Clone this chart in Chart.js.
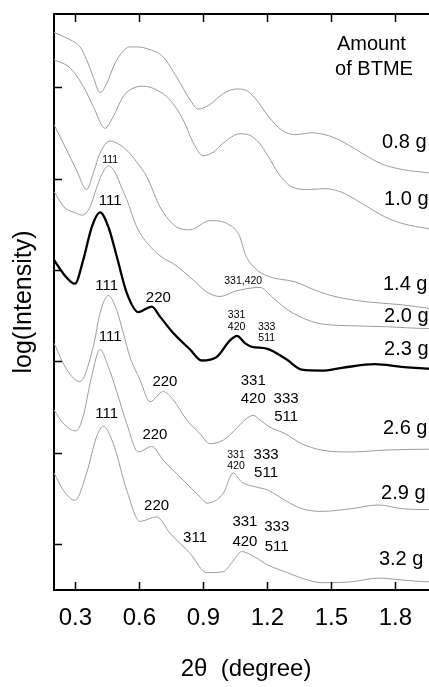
<!DOCTYPE html>
<html>
<head>
<meta charset="utf-8">
<title>log(Intensity) vs 2θ</title>
<script src="https://cdn.jsdelivr.net/npm/chart.js@4.4.1/dist/chart.umd.min.js"></script>
<style>
  html, body { margin: 0; padding: 0; background: #fff; overflow: hidden; }
  #wrap { position: relative; width: 460px; height: 687px; }
</style>
</head>
<body>
<div id="wrap"><canvas id="chart"></canvas></div>
<script>
const FONT = '"Liberation Sans", Arial, Helvetica, sans-serif';

// axes
const xTickValues = [0.3, 0.6, 0.9, 1.2, 1.5, 1.8];
const yTickValues = [0.5, 1.5, 2.5, 3.5, 4.5, 5.5];

const sampleNames = ["0.8 g", "1.0 g", "1.4 g", "2.0 g", "2.3 g", "2.6 g", "2.9 g", "3.2 g"];

// traces, offset vertically
const twoTheta08 = [0.2, 0.228, 0.275, 0.322, 0.353, 0.384, 0.416, 0.447, 0.478, 0.509, 0.556, 0.588, 0.65, 0.712, 0.775, 0.838, 0.876, 0.931, 0.994, 1.056, 1.095, 1.142, 1.205, 1.267, 1.33, 1.408, 1.486, 1.564, 1.642, 1.736, 1.83, 1.958, 2.0];
const logI08 = [6.10, 6.07, 6.02, 5.94, 5.80, 5.61, 5.44, 5.54, 5.72, 5.85, 5.94, 5.94, 5.91, 5.83, 5.61, 5.36, 5.26, 5.31, 5.43, 5.48, 5.47, 5.38, 5.18, 5.03, 4.98, 5.00, 4.97, 4.89, 4.78, 4.66, 4.60, 4.56, 4.54];

const twoTheta10 = [0.2, 0.275, 0.337, 0.384, 0.439, 0.478, 0.525, 0.572, 0.619, 0.681, 0.744, 0.806, 0.853, 0.9, 0.947, 0.994, 1.072, 1.111, 1.158, 1.205, 1.251, 1.314, 1.392, 1.47, 1.549, 1.642, 1.752, 1.83, 1.958, 2.0];
const logI10 = [5.80, 5.71, 5.51, 5.29, 5.05, 5.18, 5.40, 5.49, 5.51, 5.47, 5.36, 5.14, 4.89, 4.75, 4.79, 4.89, 4.99, 4.98, 4.90, 4.74, 4.56, 4.41, 4.38, 4.39, 4.35, 4.23, 4.08, 4.01, 3.95, 3.93];

const twoTheta14 = [0.2, 0.26, 0.306, 0.353, 0.384, 0.416, 0.463, 0.509, 0.541, 0.588, 0.635, 0.697, 0.775, 0.838, 0.931, 1.025, 1.072, 1.095, 1.142, 1.205, 1.33, 1.423, 1.517, 1.673, 1.83, 1.958, 2.0];
const logI14 = [5.09, 4.81, 4.59, 4.38, 4.56, 4.78, 4.91, 4.87, 4.81, 4.68, 4.52, 4.19, 3.97, 3.94, 4.04, 3.99, 3.86, 3.68, 3.52, 3.43, 3.37, 3.28, 3.21, 3.15, 3.12, 3.08, 3.07];

const twoTheta20 = [0.2, 0.247, 0.306, 0.331, 0.369, 0.397, 0.425, 0.455, 0.486, 0.517, 0.541, 0.588, 0.65, 0.712, 0.759, 0.853, 0.916, 0.978, 1.053, 1.166, 1.22, 1.298, 1.392, 1.455, 1.595, 1.752, 1.958, 2.0];
const logI20 = [4.36, 4.19, 4.12, 4.10, 4.19, 4.38, 4.55, 4.64, 4.57, 4.40, 4.27, 3.97, 3.76, 3.63, 3.57, 3.39, 3.26, 3.21, 3.27, 3.31, 3.21, 3.06, 2.95, 2.91, 2.89, 2.88, 2.86, 2.86];

const twoTheta23 = [0.2, 0.244, 0.298, 0.337, 0.377, 0.416, 0.455, 0.494, 0.541, 0.595, 0.658, 0.697, 0.759, 0.838, 0.892, 0.963, 1.025, 1.058, 1.095, 1.127, 1.197, 1.291, 1.361, 1.455, 1.549, 1.705, 1.83, 1.958, 2.0];
const logI23 = [3.61, 3.46, 3.35, 3.61, 3.97, 4.13, 3.97, 3.65, 3.25, 3.04, 3.10, 2.99, 2.81, 2.63, 2.51, 2.55, 2.73, 2.78, 2.70, 2.66, 2.64, 2.52, 2.41, 2.40, 2.43, 2.47, 2.44, 2.42, 2.41];

const twoTheta26 = [0.2, 0.26, 0.322, 0.384, 0.416, 0.455, 0.494, 0.525, 0.556, 0.603, 0.65, 0.712, 0.759, 0.822, 0.884, 0.931, 0.994, 1.048, 1.095, 1.134, 1.166, 1.205, 1.283, 1.361, 1.455, 1.595, 1.752, 1.958, 2.0];
const logI26 = [2.70, 2.41, 2.28, 2.66, 3.03, 3.22, 3.06, 2.81, 2.55, 2.30, 2.06, 2.17, 2.08, 1.86, 1.71, 1.60, 1.64, 1.75, 1.86, 1.91, 1.86, 1.79, 1.71, 1.60, 1.53, 1.51, 1.53, 1.54, 1.54];

const twoTheta29 = [0.2, 0.244, 0.303, 0.337, 0.373, 0.416, 0.455, 0.494, 0.541, 0.595, 0.658, 0.712, 0.806, 0.884, 0.916, 0.994, 1.04, 1.08, 1.142, 1.205, 1.283, 1.361, 1.455, 1.595, 1.72, 1.83, 1.958, 2.0];
const logI29 = [1.97, 1.82, 1.74, 1.90, 2.30, 2.63, 2.44, 2.17, 1.82, 1.51, 1.57, 1.42, 1.20, 1.02, 0.95, 1.06, 1.28, 1.18, 1.13, 1.09, 0.98, 0.89, 0.86, 0.89, 0.93, 0.89, 0.88, 0.88];

const twoTheta32 = [0.2, 0.244, 0.298, 0.353, 0.4, 0.431, 0.478, 0.541, 0.603, 0.681, 0.744, 0.838, 0.916, 0.994, 1.034, 1.08, 1.142, 1.205, 1.283, 1.361, 1.455, 1.595, 1.72, 1.83, 1.958, 2.0];
const logI32 = [1.28, 1.09, 0.98, 1.28, 1.68, 1.79, 1.60, 1.09, 0.75, 0.80, 0.62, 0.40, 0.19, 0.20, 0.30, 0.42, 0.36, 0.27, 0.20, 0.13, 0.08, 0.09, 0.13, 0.11, 0.09, 0.09];

// reflection labels
const peakText = ["111", "111", "111", "220", "111", "220", "111", "220", "220", "311",
  "331,420", "331", "420", "333", "511",
  "331", "420", "333", "511",
  "331", "420", "333", "511",
  "331", "420", "333", "511"];
const peakAt2Theta = [0.463, 0.463, 0.447, 0.689, 0.463, 0.72, 0.447, 0.673, 0.681, 0.861,
  1.087, 1.056, 1.056, 1.197, 1.197,
  1.134, 1.134, 1.288, 1.288,
  1.053, 1.053, 1.194, 1.194,
  1.095, 1.095, 1.244, 1.244];
const peakAtLogI = [4.70, 4.26, 3.33, 3.20, 2.77, 2.28, 1.93, 1.70, 0.92, 0.57,
  3.38, 3.01, 2.88, 2.88, 2.75,
  2.29, 2.09, 2.09, 1.89,
  1.48, 1.36, 1.48, 1.28,
  0.75, 0.53, 0.69, 0.47];
const peakSmall = [true, false, false, false, false, false, false, false, false, false,
  true, true, true, true, true,
  false, false, false, false,
  true, true, false, false,
  false, false, false, false];

// where the sample names sit (left edge, middle)
const nameAt2Theta = [1.738, 1.747, 1.742, 1.747, 1.747, 1.742, 1.733, 1.723];
const nameAtLogI = [4.90, 4.27, 3.34, 2.99, 2.63, 1.77, 1.06, 0.33];

const series = [
  [twoTheta08, logI08], [twoTheta10, logI10], [twoTheta14, logI14], [twoTheta20, logI20],
  [twoTheta23, logI23], [twoTheta26, logI26], [twoTheta29, logI29], [twoTheta32, logI32],
];

const datasets = series.map(([xs, ys], i) => {
  const bold = sampleNames[i] === "2.3 g";
  return {
    label: sampleNames[i],
    data: xs.map((x, k) => ({ x, y: ys[k] })),
    borderColor: bold ? "#000" : "#9c9c9c",
    borderWidth: bold ? 2.3 : 1,
    pointRadius: 0,
    cubicInterpolationMode: "monotone",
    order: bold ? 0 : 1,
  };
});

const decor = {
  id: "decor",
  afterDraw(chart) {
    const { ctx, chartArea: a, scales } = chart;
    const x = scales.x, y = scales.y;
    ctx.save();
    ctx.strokeStyle = "#000";
    ctx.lineWidth = 2;
    ctx.beginPath();
    ctx.moveTo(a.left - 1, a.top);
    ctx.lineTo(a.right + 1, a.top);
    ctx.moveTo(a.right, a.top);
    ctx.lineTo(a.right, a.bottom);
    ctx.stroke();

    // inward ticks
    ctx.lineWidth = 1.5;
    ctx.beginPath();
    x.ticks.forEach((t) => {
      const px = Math.round(x.getPixelForValue(t.value)) + 0.5;
      ctx.moveTo(px, a.bottom);
      ctx.lineTo(px, a.bottom - 8);
      ctx.moveTo(px, a.top);
      ctx.lineTo(px, a.top + 8);
    });
    y.ticks.forEach((t) => {
      const py = Math.round(y.getPixelForValue(t.value)) + 0.5;
      ctx.moveTo(a.left, py);
      ctx.lineTo(a.left + 8, py);
    });
    ctx.stroke();

    ctx.fillStyle = "#000";
    ctx.textBaseline = "middle";
    ctx.textAlign = "center";
    peakText.forEach((txt, i) => {
      ctx.font = (peakSmall[i] ? "10.5px " : "15px ") + FONT;
      ctx.fillText(txt, x.getPixelForValue(peakAt2Theta[i]), y.getPixelForValue(peakAtLogI[i]));
    });

    ctx.font = "20px " + FONT;
    ctx.fillText("Amount", x.getPixelForValue(1.688), y.getPixelForValue(5.97));
    ctx.fillText("of BTME", x.getPixelForValue(1.70), y.getPixelForValue(5.69));

    ctx.textAlign = "left";
    sampleNames.forEach((name, i) => {
      ctx.fillText(name, x.getPixelForValue(nameAt2Theta[i]), y.getPixelForValue(nameAtLogI[i]));
    });
    ctx.restore();
  },
};

Chart.defaults.font.family = FONT;
Chart.defaults.color = "#000";

new Chart(document.getElementById("chart"), {
  type: "line",
  data: { datasets },
  options: {
    responsive: true,
    maintainAspectRatio: false,
    animation: false,
    devicePixelRatio: 1,
    layout: { padding: { left: 0, right: 22, top: 14, bottom: 0 } },
    plugins: { legend: { display: false }, tooltip: { enabled: false } },
    scales: {
      x: {
        type: "linear",
        min: 0.2,
        max: 2.0,
        afterBuildTicks: (s) => { s.ticks = xTickValues.map((v) => ({ value: v })); },
        afterFit: (s) => { s.height = 97; },
        ticks: {
          autoSkip: false,
          maxRotation: 0,
          padding: 14,
          font: { size: 24 },
          color: "#000",
          callback: (v) => Number(v).toFixed(1),
        },
        grid: { display: true, drawOnChartArea: false, drawTicks: false },
        border: { display: true, color: "#000", width: 2 },
        title: {
          display: true,
          text: "2θ  (degree)",
          font: { size: 24 },
          color: "#000",
          padding: { top: 0, bottom: 3 },
        },
      },
      y: {
        type: "linear",
        min: 0,
        max: 6.3,
        afterBuildTicks: (s) => { s.ticks = yTickValues.map((v) => ({ value: v })); },
        afterFit: (s) => { s.width = 54; },
        ticks: { display: false },
        grid: { display: true, drawOnChartArea: false, drawTicks: false },
        border: { display: true, color: "#000", width: 2 },
        title: {
          display: true,
          text: "log(Intensity)",
          font: { size: 25 },
          color: "#000",
          padding: { top: 9, bottom: 0 },
        },
      },
    },
  },
  plugins: [decor],
});
</script>
</body>
</html>
